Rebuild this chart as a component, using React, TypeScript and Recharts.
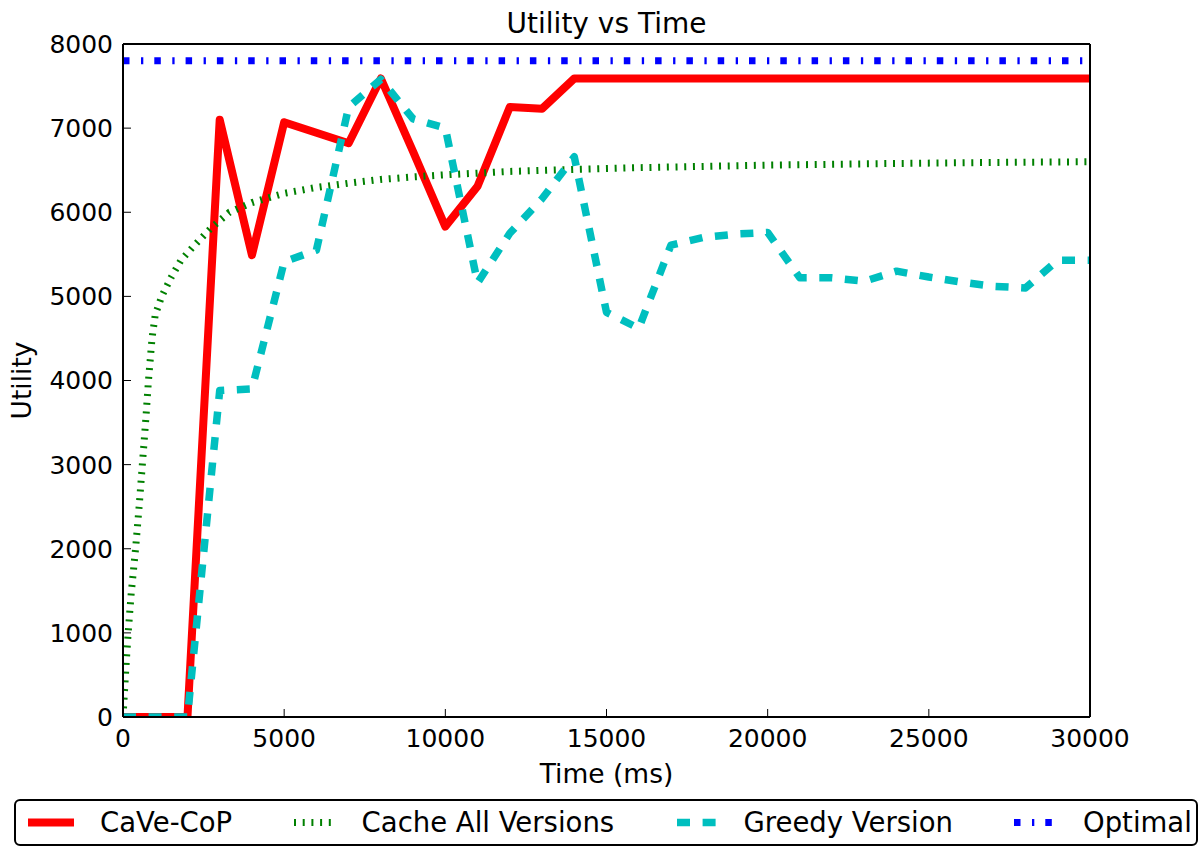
import React from 'react';
import { LineChart, Line, XAxis, YAxis, Legend, Label } from 'recharts';

// ---------- data ----------
const timeMs = [
  0, 1000, 2000, 3000, 4000, 5000, 6000, 7000, 8000, 9000, 10000,
  11000, 12000, 13000, 14000, 15000, 16000, 17000, 18000, 19000, 20000,
  21000, 22000, 23000, 24000, 25000, 26000, 27000, 28000, 29000, 30000,
];
const caveCop = [
  0, 0, 0, 7100, 5490, 7070, 6945, 6820, 7590, 6720, 5830,
  6310, 7250, 7230, 7590, 7590, 7590, 7590, 7590, 7590, 7590,
  7590, 7590, 7590, 7590, 7590, 7590, 7590, 7590, 7590, 7590,
];
const greedyVersion = [
  0, 0, 0, 3880, 3900, 5410, 5550, 7250, 7580, 7110, 7000,
  5160, 5750, 6160, 6660, 4810, 4620, 5610, 5700, 5740, 5760,
  5220, 5220, 5180, 5300, 5230, 5170, 5120, 5100, 5430, 5430,
];
const optimal = [
  7800, 7800, 7800, 7800, 7800, 7800, 7800, 7800, 7800, 7800, 7800,
  7800, 7800, 7800, 7800, 7800, 7800, 7800, 7800, 7800, 7800,
  7800, 7800, 7800, 7800, 7800, 7800, 7800, 7800, 7800, 7800,
];
const cacheAllTimeMs = [
  0, 50, 100, 160, 250, 390, 500, 600, 700, 790, 900, 1000, 1200, 1500,
  1800, 2200, 2700, 3300, 4000, 5000, 6000, 7000, 8000, 9000, 10000,
  12000, 14000, 16000, 18000, 20000, 22000, 24000, 26000, 28000, 30000,
];
const cacheAllVersions = [
  0, 330, 650, 1000, 1450, 2000, 2500, 3000, 3500, 4000, 4500, 4780, 5000, 5230,
  5430, 5600, 5800, 6000, 6115, 6225, 6295, 6345, 6390, 6420, 6445,
  6485, 6510, 6530, 6545, 6560, 6570, 6580, 6588, 6595, 6600,
];
const xTicks = [0, 5000, 10000, 15000, 20000, 25000, 30000];
const yTicks = [0, 1000, 2000, 3000, 4000, 5000, 6000, 7000, 8000];
const seriesNames = ['CaVe-CoP', 'Cache All Versions', 'Greedy Version', 'Optimal'];

// ---------- rows built from arrays ----------
const caveRows = timeMs.map((t, i) => ({ t, v: caveCop[i] }));
const greedyRows = timeMs.map((t, i) => ({ t, v: greedyVersion[i] }));
const optimalRows = timeMs.map((t, i) => ({ t, v: optimal[i] }));
const cacheRows = cacheAllTimeMs.map((t, i) => ({ t, v: cacheAllVersions[i] }));

// ---------- styles ----------
const FONT = 'DejaVu Sans';
const styles = [
  { color: '#ff0000', width: 8, dash: undefined as string | undefined },
  { color: '#008000', width: 7, dash: '2 6.7' },
  { color: '#00bfbf', width: 7.5, dash: '13 12.6' },
  { color: '#0000ff', width: 7, dash: '6.5 11.5 2.3 11' },
];
const legendSwatchX = [14, 280, 663, 1000];
const legendSwatchLen = [46, 40, 46, 46];
const legendTextX = [86, 347.6, 729.5, 1069];

const LegendBox = () => (
  <svg width={1186} height={49} style={{ display: 'block', overflow: 'visible' }}>
    <rect x={1} y={1} width={1182} height={45} rx={5} ry={5} fill="#fff" stroke="#000" strokeWidth={2} />
    {seriesNames.map((name, i) => (
      <g key={name}>
        <line
          x1={legendSwatchX[i]}
          x2={legendSwatchX[i] + legendSwatchLen[i]}
          y1={23.5}
          y2={23.5}
          stroke={styles[i].color}
          strokeWidth={styles[i].width}
          strokeDasharray={styles[i].dash}
        />
        <text x={legendTextX[i]} y={32.7} fontFamily={FONT} fontSize={27.5} fill="#000">
          {name}
        </text>
      </g>
    ))}
  </svg>
);

const tickStyle = { fill: '#000', fontSize: 25, fontFamily: FONT };

export default function App() {
  return (
    <div style={{ position: 'absolute', left: 0, top: 0, background: '#fff' }}>
      <LineChart
        width={1204}
        height={848}
        margin={{ top: 14, right: 104, bottom: 71, left: 23 }}
      >
        <XAxis
          xAxisId="bottom"
          dataKey="t"
          type="number"
          domain={[0, 30000]}
          ticks={xTicks}
          interval={0}
          allowDataOverflow
          orientation="bottom"
          height={60}
          tick={tickStyle}
          tickSize={-8}
          tickMargin={20}
          tickLine={{ stroke: '#000', strokeWidth: 1 }}
          axisLine={{ stroke: '#000', strokeWidth: 2 }}
        >
          <Label
            value="Time (ms)"
            position="bottom"
            offset={-12.5}
            style={{ fontFamily: FONT, fontSize: 26.5, fill: '#000' }}
          />
        </XAxis>
        <XAxis
          xAxisId="top"
          dataKey="t"
          type="number"
          domain={[0, 30000]}
          ticks={xTicks}
          interval={0}
          allowDataOverflow
          orientation="top"
          height={30}
          tick={false}
          tickSize={-8}
          tickLine={{ stroke: '#000', strokeWidth: 1 }}
          axisLine={{ stroke: '#000', strokeWidth: 2 }}
        >
          <Label
            value="Utility vs Time"
            position="top"
            offset={-18.7}
            style={{ fontFamily: FONT, fontSize: 28, fill: '#000' }}
          />
        </XAxis>
        <YAxis
          yAxisId="left"
          type="number"
          domain={[0, 8000]}
          ticks={yTicks}
          interval={0}
          allowDataOverflow
          orientation="left"
          width={100}
          tick={tickStyle}
          tickSize={-8}
          tickMargin={18}
          tickLine={{ stroke: '#000', strokeWidth: 1 }}
          axisLine={{ stroke: '#000', strokeWidth: 2 }}
        >
          <Label
            value="Utility"
            angle={-90}
            position="insideLeft"
            offset={-1}
            style={{ fontFamily: FONT, fontSize: 26.5, fill: '#000', textAnchor: 'middle' }}
          />
        </YAxis>
        <YAxis
          yAxisId="right"
          type="number"
          domain={[0, 8000]}
          ticks={yTicks}
          interval={0}
          allowDataOverflow
          orientation="right"
          width={10}
          tick={false}
          tickSize={-8}
          tickLine={{ stroke: '#000', strokeWidth: 1 }}
          axisLine={{ stroke: '#000', strokeWidth: 2 }}
        />
        <Line
          name={seriesNames[0]}
          data={caveRows}
          dataKey="v"
          xAxisId="bottom"
          yAxisId="left"
          type="linear"
          stroke={styles[0].color}
          strokeWidth={styles[0].width}
          strokeLinejoin="round"
          dot={false}
          activeDot={false}
          isAnimationActive={false}
        />
        <Line
          name={seriesNames[1]}
          data={cacheRows}
          dataKey="v"
          xAxisId="bottom"
          yAxisId="left"
          type="linear"
          stroke={styles[1].color}
          strokeWidth={styles[1].width}
          strokeDasharray={styles[1].dash}
          dot={false}
          activeDot={false}
          isAnimationActive={false}
        />
        <Line
          name={seriesNames[2]}
          data={greedyRows}
          dataKey="v"
          xAxisId="bottom"
          yAxisId="left"
          type="linear"
          stroke={styles[2].color}
          strokeWidth={styles[2].width}
          strokeDasharray={styles[2].dash}
          strokeLinejoin="round"
          dot={false}
          activeDot={false}
          isAnimationActive={false}
        />
        <Line
          name={seriesNames[3]}
          data={optimalRows}
          dataKey="v"
          xAxisId="top"
          yAxisId="right"
          type="linear"
          stroke={styles[3].color}
          strokeWidth={styles[3].width}
          strokeDasharray={styles[3].dash}
          dot={false}
          activeDot={false}
          isAnimationActive={false}
        />
        <Legend
          layout="vertical"
          align="center"
          verticalAlign="middle"
          wrapperStyle={{ left: 14, top: 799, width: 1186, height: 49 }}
          content={() => <LegendBox />}
        />
      </LineChart>
    </div>
  );
}
